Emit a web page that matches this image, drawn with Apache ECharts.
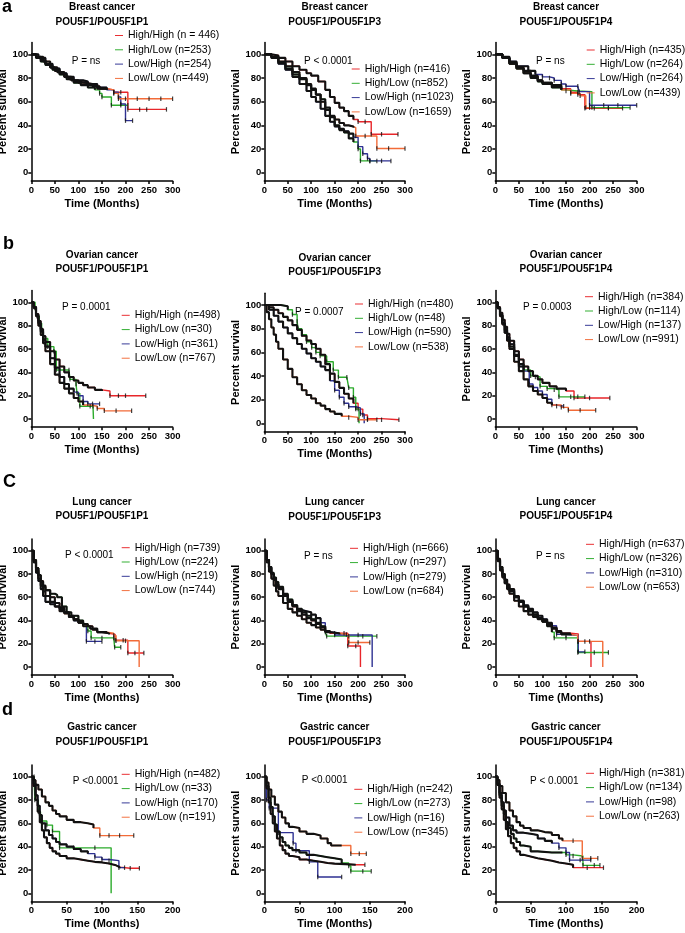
<!DOCTYPE html>
<html><head><meta charset="utf-8">
<script src="https://cdn.jsdelivr.net/npm/echarts@6/dist/echarts.min.js"></script>
<style>html,body{margin:0;padding:0;background:#fff}#chart{width:685px;height:933px}</style>
</head><body><div id="chart"></div>
<script>
// ---------------- DATA ----------------
const groupNames = ['High/High','High/Low','Low/High','Low/Low'];
const cancerTitles = ['Breast cancer','Breast cancer','Breast cancer','Ovarian cancer','Ovarian cancer','Ovarian cancer','Lung cancer','Lung cancer','Lung cancer','Gastric cancer','Gastric cancer','Gastric cancer'];
const geneTitles = ['POU5F1/POU5F1P1','POU5F1/POU5F1P3','POU5F1/POU5F1P4','POU5F1/POU5F1P1','POU5F1/POU5F1P3','POU5F1/POU5F1P4','POU5F1/POU5F1P1','POU5F1/POU5F1P3','POU5F1/POU5F1P4','POU5F1/POU5F1P1','POU5F1/POU5F1P3','POU5F1/POU5F1P4'];
const pValues = ['P = ns','P < 0.0001','P = ns','P = 0.0001','P = 0.0007','P = 0.0003','P < 0.0001','P = ns','P = ns','P <0.0001','P <0.0001','P < 0.0001'];
const legendLabels = [
 ['High/High (n = 446)','High/Low (n=253)','Low/High (n=254)','Low/Low (n=449)'],
 ['High/High (n=416)','High/Low (n=852)','Low/High (n=1023)','Low/Low (n=1659)'],
 ['High/High (n=435)','High/Low (n=264)','Low/High (n=264)','Low/Low (n=439)'],
 ['High/High (n=498)','High/Low (n=30)','Low/High (n=361)','Low/Low (n=767)'],
 ['High/High (n=480)','High/Low (n=48)','Low/High (n=590)','Low/Low (n=538)'],
 ['High/High (n=384)','High/Low (n=114)','Low/High (n=137)','Low/Low (n=991)'],
 ['High/High (n=739)','High/Low (n=224)','Low/High (n=219)','Low/Low (n=744)'],
 ['High/High (n=666)','High/Low (n=297)','Low/High (n=279)','Low/Low (n=684)'],
 ['High/High (n=637)','High/Low (n=326)','Low/High (n=310)','Low/Low (n=653)'],
 ['High/High (n=482)','High/Low (n=33)','Low/High (n=170)','Low/Low (n=191)'],
 ['High/High (n=242)','High/Low (n=273)','Low/High (n=16)','Low/Low (n=345)'],
 ['High/High (n=381)','High/Low (n=134)','Low/High (n=98)','Low/Low (n=263)']
];
const yTickValues = [0,20,40,60,80,100];
const xMaxByRow = [300,300,300,200];
const panelLetters = ['a','b','C','d'];

// Kaplan-Meier curves: [time (months), percent survival]
const breast_P1_HH = [[0,100],[10,98],[20,95],[30,92],[40,89],[50,86],[60,84],[70,81],[80,79],[90,77],[100,76],[115,75],[130,73],[145,71],[160,70],[175,68],[190,68],[205,53.5],[230,53.5],[245,53.5],[287,53.5]];
const breast_P1_HL = [[0,100],[10,97],[20,94],[30,91],[45,87],[60,83],[75,79],[90,76],[105,74],[120,72],[135,70],[145,67],[150,64],[170,57],[190,57],[205,57]];
const breast_P1_LH = [[0,100],[15,97],[30,92],[45,88],[60,84],[75,81],[90,78],[110,77],[120,75],[140,72],[160,70],[175,68],[185,64],[190,58],[200,44],[215,44]];
const breast_P1_LL = [[0,100],[10,98],[25,94],[40,89],[55,85],[70,81],[85,78],[100,76],[120,74],[140,71],[160,70],[175,67],[185,62.5],[200,62.5],[225,62.5],[250,62.5],[275,62.5],[300,62.5]];

const breast_P3_HH = [[0,100],[15,99],[30,97],[45,94],[60,90],[75,87],[90,84],[100,82],[115,77],[130,70],[140,64],[150,59],[160,55],[170,52],[180,48],[190,45],[200,43],[215,43],[228,32.5],[250,32.5],[285,32.5]];
const breast_P3_HL = [[0,100],[15,98],[30,93],[45,88],[60,83],[75,79],[90,74],[100,70],[110,66],[120,62],[130,55],[140,47],[150,40],[160,36],[170,34],[180,29],[190,26],[200,20],[205,10],[225,10],[240,10]];
const breast_P3_LH = [[0,100],[15,97],[30,92],[45,87],[60,81],[75,75],[90,69],[100,64],[110,60],[120,54],[130,48],[140,43],[150,39],[160,37],[170,35],[180,33],[190,30],[200,22],[210,16],[220,12],[225,10],[250,10],[270,10]];
const breast_P3_LL = [[0,100],[15,98],[30,94],[45,90],[60,85],[75,80],[90,75],[100,71],[110,66],[120,60],[130,53],[140,48],[150,45],[160,42],[170,40],[180,39],[190,38],[195,31],[215,31],[240,20.5],[265,20.5],[300,20.5]];

const breast_P4_HH = [[0,100],[15,97],[30,93],[45,89],[60,86],[75,82],[90,78],[100,76],[120,74],[140,71],[160,68],[175,66],[190,54.5],[210,54.5],[240,54.5],[270,54.5]];
const breast_P4_HL = [[0,100],[15,97],[30,92],[45,88],[60,84],[75,80],[90,77],[100,75],[120,72],[140,70],[150,69],[175,68.5],[205,55],[240,55],[286,55]];
const breast_P4_LH = [[0,100],[15,98],[30,94],[45,90],[55,90],[70,86],[85,83],[100,81],[115,80],[125,78],[140,75],[150,73],[175,73],[178,68.5],[200,57],[230,57],[260,57],[300,57]];
const breast_P4_LL = [[0,100],[15,97],[30,92],[45,88],[60,84],[75,81],[90,78],[100,76],[120,73],[140,70],[160,67],[180,65],[192,55],[200,55]];

const ovarian_P1_HH = [[0,100],[5,96],[10,90],[15,84],[20,77],[25,71],[30,66],[40,58],[50,51],[60,45],[70,40],[80,36],[90,33],[100,31],[110,29],[120,27],[135,25],[150,24],[167,20],[185,20],[200,20],[243,20]];
const ovarian_P1_HL = [[0,100],[8,95],[12,88],[17,82],[22,77],[25,69],[35,62],[48,58],[53,42],[80,42],[82,34],[95,30],[97,22],[103,11],[131,11],[132,0]];
const ovarian_P1_LH = [[0,100],[5,96],[10,89],[15,82],[20,75],[25,68],[30,62],[40,52],[50,44],[60,36],[70,30],[80,26],[90,23],[100,20],[110,15],[120,13],[130,13],[145,13]];
const ovarian_P1_LL = [[0,100],[5,95],[10,88],[15,80],[20,72],[25,65],[30,58],[40,47],[50,38],[60,31],[70,26],[80,22],[90,18],[100,15],[110,12],[125,11],[140,9],[155,7],[180,7],[213,7]];

const ovarian_P3_HH = [[0,100],[10,98],[20,96],[30,93],[40,90],[50,87],[60,83],[70,79],[80,74],[90,70],[100,67],[110,63],[120,58],[130,50],[140,42],[150,35],[160,30],[170,25],[180,21],[190,17],[200,12],[210,7],[220,4],[250,3],[287,3]];
const ovarian_P3_HL = [[0,100],[20,100],[35,99],[50,96],[60,92],[70,86],[72,80],[80,75],[90,69],[101,64],[110,60],[119,57],[133,52],[147,45],[158,39],[176,39],[180,30],[190,22],[195,12],[202,0]];
const ovarian_P3_LH = [[0,100],[10,96],[20,91],[30,86],[40,81],[50,76],[60,72],[70,67],[80,63],[90,59],[100,55],[110,52],[120,48],[130,45],[140,36],[150,28],[160,22],[170,17],[180,14],[195,13],[205,8],[213,0]];
const ovarian_P3_LL = [[0,100],[5,94],[10,88],[15,81],[20,75],[25,69],[30,63],[40,54],[50,46],[60,39],[70,33],[80,28],[90,24],[100,21],[110,17],[120,15],[130,12],[140,10],[150,8],[165,6],[180,5],[200,3],[220,3],[240,3]];

const ovarian_P4_HH = [[0,100],[5,96],[10,91],[15,85],[20,79],[25,73],[30,67],[40,58],[50,51],[60,45],[70,41],[80,37],[90,34],[100,31],[115,28],[130,26],[150,24],[167,18],[200,18],[243,18]];
const ovarian_P4_HL = [[0,100],[5,95],[10,89],[15,82],[20,74],[25,68],[30,62],[40,55],[50,47],[60,42],[75,37],[85,36],[95,28],[110,26],[125,25],[135,19],[160,19],[175,19],[190,19]];
const ovarian_P4_LH = [[0,100],[5,95],[10,89],[15,82],[20,76],[25,70],[30,64],[40,54],[50,45],[60,41],[72,30],[80,27],[90,24],[100,21],[110,17],[120,12],[130,11],[145,11]];
const ovarian_P4_LL = [[0,100],[5,95],[10,88],[15,81],[20,74],[25,67],[30,60],[40,49],[50,41],[60,34],[70,28],[80,24],[90,21],[100,18],[110,14],[120,12],[140,10],[155,7.5],[180,7.5],[213,7.5]];

const lung_P1_HH = [[0,100],[5,92],[10,85],[15,79],[20,74],[25,70],[30,66],[40,60],[50,55],[60,51],[70,47],[80,44],[90,41],[100,39],[110,37],[120,35],[130,32],[140,30],[150,29],[165,28],[178,23],[195,23],[205,12],[220,12],[239,12]];
const lung_P1_HL = [[0,100],[5,92],[10,85],[15,79],[20,73],[25,69],[30,66],[40,63],[50,62],[55,60],[65,52],[75,47],[85,44],[100,40],[110,36],[120,31],[127,25],[150,25],[175,25],[177,17],[190,17]];
const lung_P1_LH = [[0,100],[5,90],[10,81],[15,74],[20,67],[25,61],[30,56],[40,54],[50,52],[60,50],[70,47],[80,43],[90,40],[100,38],[110,36],[117,22],[135,22],[150,22]];
const lung_P1_LL = [[0,100],[5,91],[10,83],[15,76],[20,70],[25,65],[30,61],[40,56],[50,52],[60,48],[70,46],[80,43],[90,41],[100,38],[110,35],[125,33],[140,30],[160,29],[175,27],[180,22.5],[200,22.5],[229,0]];

const lung_P3_HH = [[0,100],[5,92],[10,85],[15,80],[20,75],[25,71],[30,67],[40,61],[50,56],[60,52],[70,48],[80,45],[90,42],[100,40],[110,37],[120,34],[130,31],[140,29],[150,29],[170,29],[178,18],[195,18],[205,0]];
const lung_P3_HL = [[0,100],[5,92],[10,86],[15,81],[20,77],[25,73],[30,69],[40,63],[50,58],[60,53],[70,50],[80,47],[90,44],[100,41],[110,38],[120,35],[130,30],[133,26.5],[180,26.5],[210,26.5],[240,26.5]];
const lung_P3_LH = [[0,100],[5,92],[10,86],[15,80],[20,75],[25,71],[30,68],[40,62],[50,57],[60,53],[70,49],[80,48],[90,47],[100,45],[110,42],[120,38],[130,30],[150,27.5],[200,27.5],[230,0]];
const lung_P3_LL = [[0,100],[5,90],[10,82],[15,76],[20,70],[25,65],[30,61],[40,55],[50,50],[60,47],[70,44],[80,41],[90,38],[100,36],[110,34],[120,32],[130,30],[140,29],[160,28],[175,28],[180,21],[200,21],[225,21]];

const lung_P4_HH = [[0,100],[5,93],[10,86],[15,80],[20,75],[25,71],[30,67],[40,61],[50,57],[60,52],[70,48],[80,45],[90,42],[100,40],[110,37],[120,34],[130,31],[140,29],[160,28.5],[176,22],[190,22],[203,0]];
const lung_P4_HL = [[0,100],[5,92],[10,86],[15,80],[20,75],[25,70],[30,66],[40,60],[50,56],[60,52],[70,48],[80,45],[90,42],[100,39],[110,35],[120,30],[125,25],[150,25],[175,12.5],[210,12.5],[240,12.5]];
const lung_P4_LH = [[0,100],[5,92],[10,84],[15,78],[20,72],[25,68],[30,65],[40,60],[50,57],[60,53],[70,50],[80,47],[90,44],[100,41],[110,38],[120,35.5],[130,28],[150,27],[176,13],[190,13]];
const lung_P4_LL = [[0,100],[5,91],[10,83],[15,77],[20,72],[25,67],[30,63],[40,57],[50,52],[60,48],[70,45],[80,43],[90,41],[100,39],[110,36],[120,33],[130,30],[140,28],[160,27],[175,22],[200,22],[228,0]];

const gastric_P1_HH = [[0,100],[3,92],[6,80],[9,70],[12,61],[15,54],[18,48],[22,43],[26,39],[30,36],[35,34],[40,32],[50,30],[60,29],[70,28],[80,27],[90,26.5],[100,25.5],[110,24],[120,22.5],[125,21.5],[140,21.5],[153,21.5]];
const gastric_P1_HL = [[0,100],[4,100],[5,80],[10,70],[13,62],[22,58.5],[30,53],[40,39],[60,39],[90,39],[113,0]];
const gastric_P1_LH = [[0,100],[3,94],[6,84],[9,75],[12,67],[15,60],[20,54],[25,50],[30,47],[35,44],[40,42],[50,40],[60,38],[70,36],[80,34],[90,31],[100,29],[110,28],[124,22],[132,22]];
const gastric_P1_LL = [[0,100],[3,97],[6,93],[10,89],[15,83],[20,78],[25,75],[30,71],[35,68],[40,66],[50,63],[60,61],[70,60],[80,59],[88,56],[97,49.5],[110,49.5],[125,49.5],[145,49.5]];

const gastric_P3_HH = [[0,100],[3,90],[6,78],[9,68],[12,60],[15,53],[18,47],[22,41],[26,37],[30,34],[35,32],[40,31],[50,29],[60,28],[70,27],[80,26],[90,25.5],[100,25],[115,24.5],[130,24.5],[143,24.5]];
const gastric_P3_HL = [[0,100],[3,92],[6,82],[9,74],[12,66],[15,59],[18,53],[22,48],[26,44],[30,41],[35,39],[40,37],[50,35],[60,33],[70,32],[80,31],[90,30],[100,29],[110,26],[120,23.5],[123,19],[140,19],[152,19]];
const gastric_P3_LH = [[0,100],[3,80],[7,73],[20,52],[41,43],[45,36.5],[64,27],[76,14],[110,14]];
const gastric_P3_LL = [[0,100],[3,95],[6,89],[10,83],[15,76],[20,70],[25,65],[30,60],[35,57],[40,56],[50,53],[60,51],[70,49.5],[80,47],[90,43],[95,41],[110,41],[123,34],[135,34],[145,34]];

const gastric_P4_HH = [[0,100],[3,93],[6,82],[9,72],[12,63],[15,55],[18,49],[22,43],[26,39],[30,36],[35,33],[40,31.5],[50,30],[60,29],[70,28],[80,26.5],[90,25.5],[100,24.5],[110,22],[130,22],[153,22]];
const gastric_P4_HL = [[0,100],[3,93],[6,84],[9,75],[12,68],[15,61],[18,56],[22,51],[26,47],[30,44],[35,41],[40,40],[50,36],[60,35],[80,35],[95,35],[100,33],[110,32],[124,24],[140,24],[148,24]];
const gastric_P4_LH = [[0,100],[3,94],[6,86],[9,78],[12,71],[15,65],[20,58],[25,54],[30,52],[40,51],[50,50],[60,47],[70,45],[80,43],[90,39],[100,35],[105,28.5],[120,28.5],[135,28.5]];
const gastric_P4_LL = [[0,100],[3,97],[6,92],[10,86],[15,78],[20,71],[25,66],[30,61],[35,58],[40,56],[50,54],[60,52.5],[70,52],[80,50],[90,47],[95,45],[110,45],[123,30],[135,30],[145,30]];

const panelCurves = [
 [breast_P1_HH, breast_P1_HL, breast_P1_LH, breast_P1_LL],
 [breast_P3_HH, breast_P3_HL, breast_P3_LH, breast_P3_LL],
 [breast_P4_HH, breast_P4_HL, breast_P4_LH, breast_P4_LL],
 [ovarian_P1_HH, ovarian_P1_HL, ovarian_P1_LH, ovarian_P1_LL],
 [ovarian_P3_HH, ovarian_P3_HL, ovarian_P3_LH, ovarian_P3_LL],
 [ovarian_P4_HH, ovarian_P4_HL, ovarian_P4_LH, ovarian_P4_LL],
 [lung_P1_HH, lung_P1_HL, lung_P1_LH, lung_P1_LL],
 [lung_P3_HH, lung_P3_HL, lung_P3_LH, lung_P3_LL],
 [lung_P4_HH, lung_P4_HL, lung_P4_LH, lung_P4_LL],
 [gastric_P1_HH, gastric_P1_HL, gastric_P1_LH, gastric_P1_LL],
 [gastric_P3_HH, gastric_P3_HL, gastric_P3_LH, gastric_P3_LL],
 [gastric_P4_HH, gastric_P4_HL, gastric_P4_LH, gastric_P4_LL]
];

// ---------------- STYLE / LAYOUT ----------------
const FONT = '"Liberation Sans", Arial, Helvetica, sans-serif';
const COLORS = ['#e8262a', '#2bab2b', '#2e3192', '#f26b38'];
// time up to which censor marks are so dense that the curve reads as black
const DENSE = [
 [160,140,170,170],[195,190,190,190],[150,140,95,150],
 [150,0,95,120],[190,50,140,170],[150,60,70,120],
 [170,110,110,170],[140,130,125,170],[170,120,120,170],
 [125,0,80,90],[140,110,0,120],[120,95,80,95]
];
const GRID = [
 [31.3,42.5,141.3,138.5],[264.3,42.5,140.7,138.5],[495.3,42.5,141.4,138.5],
 [31.3,290.6,141.3,136.6],[264.3,293.2,140.7,138.4],[495.3,290.6,141.4,136.6],
 [31.3,539.1,141.3,136],[264.3,539.1,140.7,136],[495.3,539.1,141.4,136],
 [31.3,765,141.3,136.5],[264.3,765,140.7,136.5],[495.3,765,141.4,136.5]
];
const LEGEND_POS = [[115,30],[351.7,63.5],[586.7,44.5],[121.7,309.8],[355,298.5],[585,291.2],[121.7,542.2],[350,542.8],[586,538.8],[121.7,768.8],[354.3,783.8],[586,767.8]];
const P_POS = [[71.7,61],[304,61],[536,61],[62,307],[295,312.3],[523,307.7],[65,555],[304,556],[536,556.7],[72.7,781],[301.7,780.7],[530,781]];
const TITLE_X = [102, 334.7, 566];
const TITLE_Y = [[7.5,22],[7.5,22],[7.5,22],[255,269.5],[258,272],[255,269.5],[502,516.7],[502.7,517.3],[502,516.7],[727.7,742.3],[727.7,742.3],[727.7,742.3]];
const LETTER_POS = [[2,7],[3,244],[3,482],[2,710]];

const chart = echarts.init(document.getElementById('chart'), null, {renderer:'canvas'});
const grid = [], xAxis = [], yAxis = [], series = [], legend = [], elements = [];

panelCurves.forEach((curves, i) => {
  const row = Math.floor(i / 3), col = i % 3;
  const g = GRID[i];
  grid.push({left:g[0], top:g[1], width:g[2], height:g[3], containLabel:false, outerBoundsMode:'none'});
  xAxis.push({
    gridIndex:i, type:'value', min:0, max:xMaxByRow[row], interval:50,
    axisLine:{onZero:false, lineStyle:{color:'#000', width:1.5}},
    axisTick:{show:true, length:3, lineStyle:{color:'#000', width:1.5}},
    axisLabel:{color:'#000', fontSize:9.5, fontWeight:'bold', fontFamily:FONT, margin:4},
    splitLine:{show:false},
    name:'Time (Months)', nameLocation:'middle', nameGap:17,
    nameTextStyle:{color:'#000', fontSize:11, fontWeight:'bold', fontFamily:FONT}
  });
  yAxis.push({
    gridIndex:i, type:'value', min:-7, max:110,
    axisLine:{show:true, onZero:false, lineStyle:{color:'#000', width:1.5}},
    axisTick:{show:true, length:3, customValues:yTickValues, lineStyle:{color:'#000', width:1.5}},
    axisLabel:{customValues:yTickValues, color:'#000', fontSize:9.5, fontWeight:'bold', fontFamily:FONT, margin:3},
    splitLine:{show:false},
    name:'Percent survival', nameLocation:'middle', nameGap:21, nameRotate:90,
    nameTextStyle:{color:'#000', fontSize:11, fontWeight:'bold', fontFamily:FONT}
  });
  curves.forEach((curve, k) => {
    series.push({
      type:'line', name:legendLabels[i][k], xAxisIndex:i, yAxisIndex:i,
      data:curve, step:'end', showSymbol:false, symbol:'none', animation:false, silent:true,
      color:COLORS[k], lineStyle:{color:COLORS[k], width:1.4}, z:2
    });
  });
  curves.forEach((curve, k) => {
    const cut = DENSE[i][k];
    series.push({
      type:'line', name:'dense-' + i + '-' + k, xAxisIndex:i, yAxisIndex:i,
      data:curve.filter(p => p[0] <= cut), step:'end', showSymbol:false, symbol:'none',
      animation:false, silent:true, lineStyle:{color:'#111', width:2.1}, z:3
    });
    series.push({
      type:'scatter', name:'censor-' + i + '-' + k, xAxisIndex:i, yAxisIndex:i,
      data:curve.filter(p => p[0] > cut && p[1] > 0), symbol:'rect', symbolSize:[1.2, 4.5],
      itemStyle:{color:'#111'}, animation:false, silent:true, z:4
    });
  });
  legend.push({
    left:LEGEND_POS[i][0], top:LEGEND_POS[i][1], orient:'vertical', padding:0,
    itemWidth:8, itemHeight:5, itemGap:3.3, selectedMode:false,
    icon:'path://M0,2.2H10V3.4H0Z',
    textStyle:{color:'#000', fontSize:10.5, fontFamily:FONT},
    data:legendLabels[i].map((n, k) => ({name:n, itemStyle:{color:COLORS[k]}}))
  });
  elements.push({type:'text', x:TITLE_X[col], y:TITLE_Y[i][0], silent:true,
    style:{text:cancerTitles[i], fill:'#000', font:'bold 10px ' + FONT, align:'center', verticalAlign:'middle'}});
  elements.push({type:'text', x:TITLE_X[col], y:TITLE_Y[i][1], silent:true,
    style:{text:geneTitles[i], fill:'#000', font:'bold 10px ' + FONT, align:'center', verticalAlign:'middle'}});
  elements.push({type:'text', x:P_POS[i][0], y:P_POS[i][1], silent:true,
    style:{text:pValues[i], fill:'#000', font:'10px ' + FONT, align:'left', verticalAlign:'middle'}});
});
panelLetters.forEach((t, r) => {
  elements.push({type:'text', x:LETTER_POS[r][0], y:LETTER_POS[r][1], silent:true,
    style:{text:t, fill:'#000', font:'bold 18px ' + FONT, align:'left', verticalAlign:'middle'}});
});

chart.setOption({
  backgroundColor:'#fff', animation:false,
  grid, xAxis, yAxis, series, legend,
  graphic:{elements}
});
</script></body></html>
